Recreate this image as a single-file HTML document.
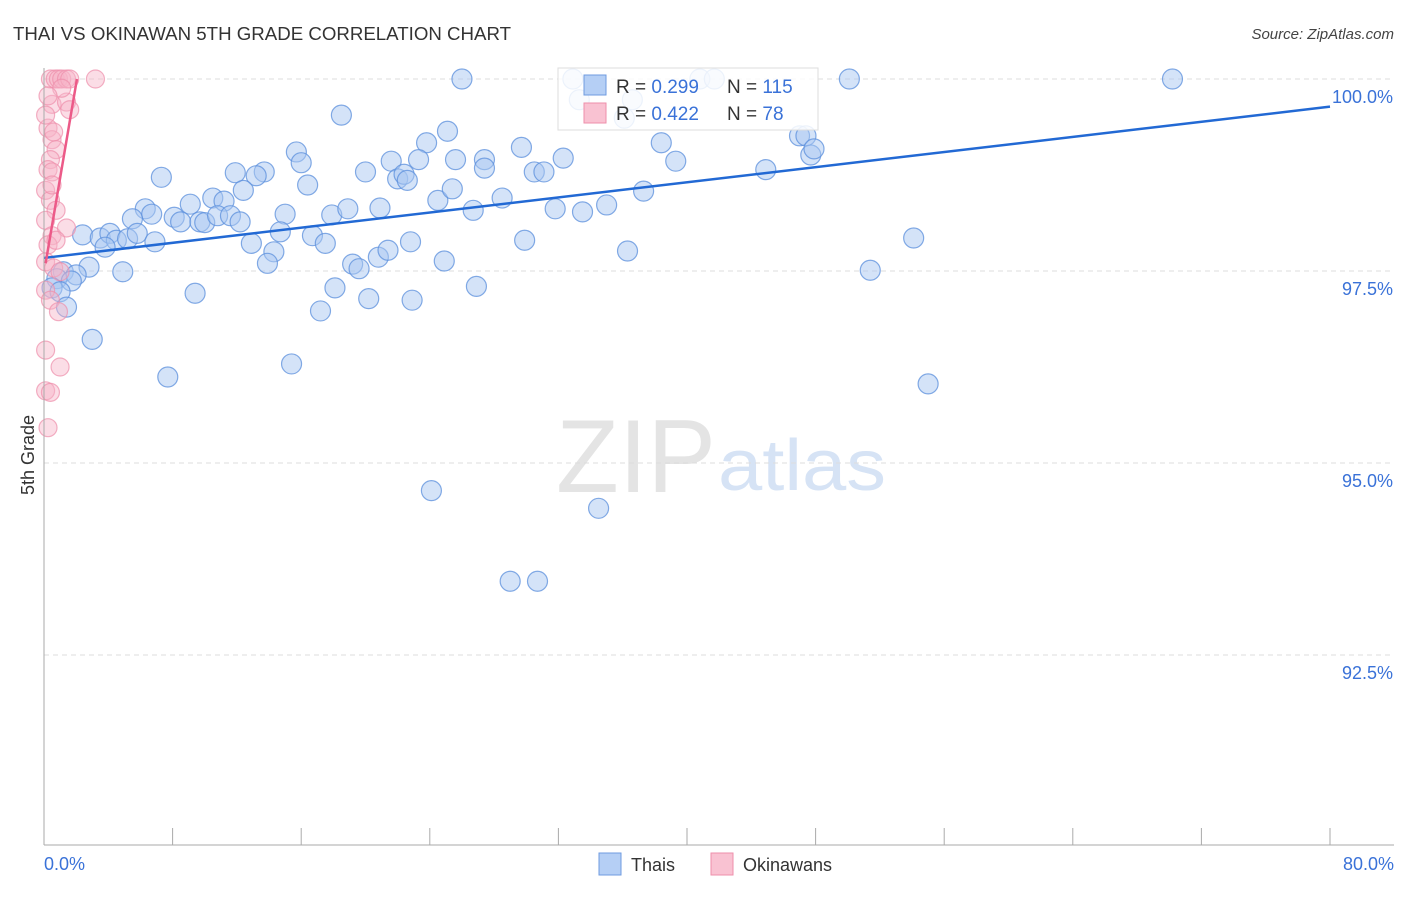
<!DOCTYPE html>
<html><head><meta charset="utf-8"><style>
body{margin:0;background:#fff;font-family:"Liberation Sans",sans-serif}
svg text{font-family:"Liberation Sans",sans-serif}
</style></head><body>
<svg id="c" width="1406" height="892" xmlns="http://www.w3.org/2000/svg">
<text x="13" y="40" font-size="18" fill="#333" textLength="498" lengthAdjust="spacingAndGlyphs">THAI VS OKINAWAN 5TH GRADE CORRELATION CHART</text>
<text x="1394" y="39" font-size="15" fill="#444" text-anchor="end" font-style="italic">Source: ZipAtlas.com</text>
<text x="34" y="455" font-size="18" fill="#333" transform="rotate(-90 34 455)" text-anchor="middle">5th Grade</text>
<text x="716" y="492" font-size="104" fill="#e4e4e4" text-anchor="end" font-family="Liberation Serif" textLength="160" lengthAdjust="spacingAndGlyphs">ZIP</text>
<text x="718" y="490" font-size="72" fill="#d6e3f5" textLength="168" lengthAdjust="spacingAndGlyphs">atlas</text>
<g id="grid"></g><g id="pts"></g><g id="lines"></g>
<line x1="44" y1="68" x2="44" y2="845" stroke="#aaa"/>
<line x1="44" y1="845" x2="1394" y2="845" stroke="#aaa"/>
<g id="xt"></g>
<text x="44" y="870" font-size="18" fill="#3a72d8">0.0%</text>
<text x="1394" y="870" font-size="18" fill="#3a72d8" text-anchor="end">80.0%</text>
<g>
<rect x="558" y="68" width="260" height="62" fill="#fff" fill-opacity="0.85" stroke="#ddd"/>
<rect x="584" y="75" width="22" height="20" fill="#b5cff5" stroke="#6f9be0"/>
<rect x="584" y="103" width="22" height="20" fill="#f9c2d2" stroke="#ee8fab"/>
<text x="616" y="93" font-size="19" fill="#333">R = <tspan fill="#3a72d8">0.299</tspan></text>
<text x="727" y="93" font-size="19" fill="#333">N = <tspan fill="#3a72d8">115</tspan></text>
<text x="616" y="120" font-size="19" fill="#333">R = <tspan fill="#3a72d8">0.422</tspan></text>
<text x="727" y="120" font-size="19" fill="#333">N = <tspan fill="#3a72d8"> 78</tspan></text>
</g>
<g><rect x="599" y="853" width="22" height="22" fill="#b5cff5" stroke="#6f9be0"/><text x="631" y="871" font-size="18" fill="#333">Thais</text></g>
<g><rect x="711" y="853" width="22" height="22" fill="#f9c2d2" stroke="#ee8fab"/><text x="743" y="871" font-size="18" fill="#333">Okinawans</text></g>
</svg>
<script>
const yTicks=[100,97.5,95,92.5];
const yTickLabels=["100.0%","97.5%","95.0%","92.5%"];
const blueX=[26.0,32.9,40.8,41.7,50.1,70.2,33.3,36.6,36.1,18.5,25.1,23.8,47.0,47.4,47.7,47.9,15.7,16.0,32.3,29.7,25.6,27.4,27.4,21.6,23.3,20.0,22.0,22.4,39.3,38.4,44.9,30.5,31.1,11.9,13.7,13.2,7.3,16.4,12.4,10.5,11.2,9.1,6.3,6.7,5.5,8.1,8.5,9.7,10.0,10.8,11.6,12.2,15.0,17.9,18.9,20.9,22.6,24.5,25.4,26.7,28.5,31.8,33.5,35.0,37.3,2.4,3.5,4.1,4.5,5.2,5.8,6.9,3.8,12.9,14.7,16.7,17.5,14.3,13.9,19.2,19.6,20.8,21.4,22.8,24.9,29.9,36.3,54.1,51.4,2.8,4.9,1.2,2.0,0.8,0.5,1.7,1.0,9.4,18.1,20.2,22.9,26.9,17.2,1.4,3.0,15.4,7.7,55.0,24.1,34.5,29.0,30.7];
const blueY=[100,100,100,100,100,100,99.73,99.73,99.49,99.53,99.32,99.17,99.26,99.26,99.01,99.09,99.05,98.91,98.97,99.11,98.95,98.95,98.84,98.93,98.95,98.79,98.70,98.76,98.93,99.17,98.82,98.79,98.79,98.78,98.79,98.74,98.72,98.62,98.55,98.45,98.41,98.37,98.31,98.24,98.18,98.20,98.14,98.14,98.13,98.22,98.22,98.14,98.24,98.23,98.31,98.32,98.68,98.42,98.57,98.29,98.45,98.31,98.27,98.36,98.54,97.97,97.93,97.99,97.90,97.92,97.99,97.88,97.81,97.86,98.01,97.96,97.86,97.75,97.60,97.59,97.53,97.68,97.77,97.88,97.63,97.90,97.76,97.93,97.51,97.55,97.49,97.49,97.45,97.40,97.28,97.37,97.23,97.21,97.28,97.14,97.12,97.30,96.98,97.03,96.61,96.29,96.12,96.03,94.64,94.41,93.46,93.46];
const pinkX=[0.4,0.7,0.9,1.1,1.4,1.6,3.2,0.5,1.4,1.6,0.25,0.5,0.75,0.4,0.25,0.5,0.1,0.4,0.75,0.1,0.5,0.25,1.4,0.1,0.6,1.0,0.1,0.4,0.9,0.1,1.0,0.1,0.4,0.25,0.6,0.1,1.1,0.25,0.5,0.75];
const pinkY=[100,100,100,100,100,100,100,99.67,99.70,99.60,99.36,99.21,99.08,98.95,98.82,98.79,98.55,98.42,98.29,98.16,97.96,97.84,98.06,97.62,97.54,97.49,97.25,97.12,96.97,96.47,96.25,95.94,95.92,95.46,99.31,99.53,99.88,99.78,98.62,97.90];
const blueTrend=[[0,97.67],[80,99.64]];
const pinkTrend=[[0.1,97.6],[2.05,100]];
const NS="http://www.w3.org/2000/svg";
const sx=v=>44+v*1286/80, sy=v=>79+(100-v)*76.8;
function mk(tag,at,parent){const e=document.createElementNS(NS,tag);for(const k in at)e.setAttribute(k,at[k]);document.getElementById(parent).appendChild(e);return e;}
yTicks.forEach((t,i)=>{
 const l=mk('line',{x1:44,x2:1394,y1:sy(t),y2:sy(t),stroke:'#ddd','stroke-dasharray':'5,4'},'grid');
 
 
 const tx=mk('text',{x:1393,y:sy(t)+24,'font-size':18,fill:'#3a72d8','text-anchor':'end'},'grid');
 tx.textContent=yTickLabels[i];
 
 
});
for(let i=1;i<=10;i++){
 const l=mk('line',{x1:sx(i*8),x2:sx(i*8),y1:828,y2:845,stroke:'#aaa'},'xt');
 
 
}
blueX.forEach((x,i)=>{
 const c=mk('circle',{cx:sx(x),cy:sy(blueY[i]),r:10,fill:'#a9c8f2','fill-opacity':0.5,stroke:'#5b8fdc','stroke-opacity':0.75,'stroke-width':1.2},'pts');
 
 
});
pinkX.forEach((x,i)=>{
 const c=mk('circle',{cx:sx(x),cy:sy(pinkY[i]),r:9,fill:'#f6b3c8','fill-opacity':0.45,stroke:'#ee8fab','stroke-opacity':0.7,'stroke-width':1.2},'pts');
 
 
});
const bl=mk('line',{x1:sx(blueTrend[0][0]),y1:sy(blueTrend[0][1]),x2:sx(blueTrend[1][0]),y2:sy(blueTrend[1][1]),stroke:'#2269d4','stroke-width':2.5},'lines');


const pl=mk('line',{x1:sx(pinkTrend[0][0]),y1:sy(pinkTrend[0][1]),x2:sx(pinkTrend[1][0]),y2:sy(pinkTrend[1][1]),stroke:'#ec5a88','stroke-width':2.5},'lines');


</script>
</body></html>
